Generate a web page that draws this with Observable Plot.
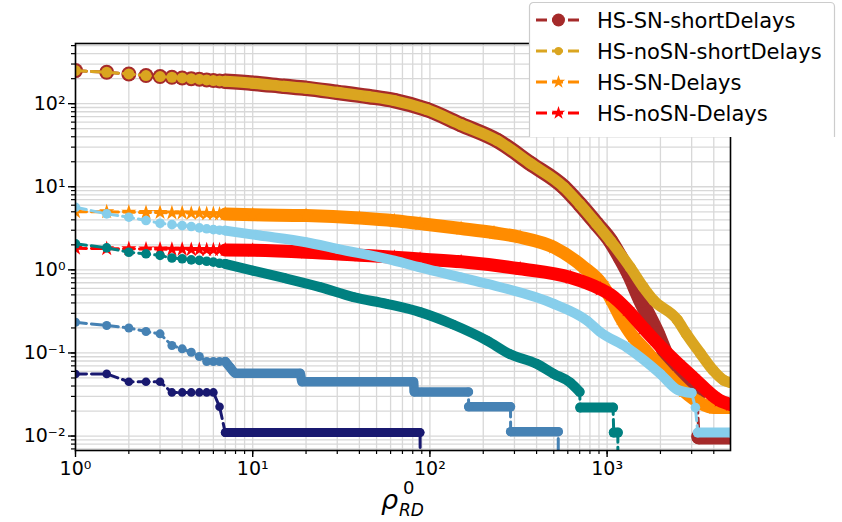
<!DOCTYPE html>
<html><head><meta charset="utf-8">
<script src="https://cdn.jsdelivr.net/npm/d3@7"></script>
<script src="https://cdn.jsdelivr.net/npm/@observablehq/plot@0.6"></script>
<style>
html,body{margin:0;padding:0;background:#fff;}
#wrap{position:relative;width:842px;height:522px;overflow:hidden;font-family:"DejaVu Sans",sans-serif;}
#wrap svg{display:block;}
</style></head><body><div id="wrap"></div>
<script>
// ---------- data ----------
const seriesNames = ["HS-SN-shortDelays", "HS-noSN-shortDelays", "HS-SN-Delays", "HS-noSN-Delays",
                     "series 5", "series 6", "series 7", "series 8"];
const xMajorTicks = [1, 10, 100, 1000];
const yMajorTicks = [0.01, 0.1, 1, 10, 100];

const xBrown = [1,1.5,2,2.5,3,3.5,4,4.5,5,5.5,6,6.5,7,10,15,20,30,45,63,96,150,240,370,570,700,870,1050,1190,1330,1550,1920,2180,2600,3220,3300,4970];
const yBrown = [250,239,228,218,212,208,204,200,197,193,190,188,186,176,162,153,137,122,109,85,56,36,19,9.9,6.2,3.6,2.2,1.4,0.9,0.43,0.17,0.089,0.051,0.029,0.0098,0.0098];

const xGold = [1,1.5,2,2.5,3,3.5,4,4.5,5,5.5,6,6.5,7,10,15,20,30,45,63,96,150,240,370,570,700,870,1050,1350,1600,1830,2490,2800,3370,3960,4550,4970];
const yGold = [250,239,228,218,212,208,204,200,197,193,190,188,186,176,162,153,137,122,109,85,56,36,19,9.9,6.2,3.6,2.2,1.07,0.62,0.43,0.25,0.17,0.098,0.062,0.047,0.044];

const xOrange = [1,1.5,2,2.5,3,3.5,4,4.5,5,5.5,6,6.5,7,10,20,40,63,88,150,230,323,500,740,930,1050,1200,1390,1600,2170,2700,3350,4000,4970];
const yOrange = [5.0,5.0,4.95,4.9,4.9,4.85,4.85,4.8,4.8,4.75,4.75,4.7,4.7,4.6,4.5,4.2,3.9,3.6,3.15,2.8,2.47,1.87,1.07,0.68,0.45,0.26,0.16,0.115,0.056,0.035,0.025,0.022,0.022];

const xRed = [1,1.5,2,2.5,3,3.5,4,4.5,5,5.5,6,6.5,7,10,20,40,63,88,150,323,620,915,1050,1300,1600,2000,2500,3050,4300,4970];
const yRed = [1.82,1.8,1.8,1.78,1.78,1.77,1.77,1.76,1.76,1.75,1.75,1.74,1.74,1.72,1.63,1.5,1.42,1.35,1.25,1.03,0.81,0.59,0.5,0.33,0.2,0.12,0.075,0.051,0.027,0.024];

const xSky = [1,1.5,2,2.5,3,3.5,4,4.5,5,5.5,6,6.5,7,11,20,30,63,88,150,210,500,770,915,1290,2000,2500,3000,3150,3250,4970];
const ySky = [5.66,4.72,4.3,3.92,3.64,3.5,3.41,3.32,3.2,3.12,3.05,3.0,2.97,2.59,2.15,1.79,1.29,1.07,0.81,0.68,0.39,0.245,0.178,0.117,0.056,0.036,0.033,0.022,0.011,0.011];

const xTeal = [1,1.5,2,2.5,3,3.5,4,4.5,5,5.5,6,6.5,7,10,15,24,37,57,88,135,210,280,400,500,620,700,705,1080,1090,1150,1150.5];
const yTeal = [2.06,1.84,1.63,1.56,1.49,1.39,1.36,1.32,1.3,1.27,1.24,1.2,1.18,0.98,0.8,0.62,0.47,0.39,0.31,0.22,0.141,0.098,0.074,0.056,0.044,0.034,0.022,0.022,0.011,0.011,0];

const xSteel = [1,1.5,2,2.5,3,3.5,4,4.5,5,5.5,6,6.5,7,7.5,8,18.5,19,81,81.5,165,165.5,285,285.5,530,530.5];
const ySteel = [0.234,0.214,0.2,0.181,0.17,0.123,0.112,0.102,0.0906,0.079,0.079,0.079,0.079,0.066,0.057,0.057,0.045,0.045,0.034,0.034,0.0225,0.0225,0.0113,0.0113,0];

const xNavy = [1,1.5,2,2.5,3,3.5,4,4.5,5,5.5,6,6.5,7,88,88.5];
const yNavy = [0.0558,0.056,0.045,0.045,0.045,0.0335,0.0335,0.0335,0.0335,0.0335,0.0335,0.0225,0.011,0.011,0];

// ---------- styles ----------
const seriesStyles = [
  {color:"#a52a2a", symbol:"circle", r:7.5, band:15.5},
  {color:"#daa520", symbol:"circle", r:5.5, band:11},
  {color:"#ff8c00", symbol:"star",   r:4.8, band:13},
  {color:"#ff0000", symbol:"star",   r:4.8, band:13},
  {color:"#87ceeb", symbol:"circle", r:4.8, band:10},
  {color:"#008080", symbol:"circle", r:4.8, band:10},
  {color:"#4682b4", symbol:"circle", r:4.5, band:9.5},
  {color:"#191970", symbol:"circle", r:4.3, band:9}
];
const seriesX = [xBrown, xGold, xOrange, xRed, xSky, xTeal, xSteel, xNavy];
const seriesY = [yBrown, yGold, yOrange, yRed, ySky, yTeal, ySteel, yNavy];

const W = 842, H = 522;
const mL = 75, mR = 112, mT = 43, mB = 72;
const xDomain = [1, 4970], yDomain = [0.0067, 530];
const yFloor = yDomain[0] / 10;           // zero values are clipped below the axis (like matplotlib)
const pxPerDecadeY = (H - mT - mB) / Math.log10(yDomain[1] / yDomain[0]);

const SUP = {"-":"\u207B","0":"\u2070","1":"\u00B9","2":"\u00B2","3":"\u00B3","4":"\u2074","5":"\u2075","6":"\u2076","7":"\u2077","8":"\u2078","9":"\u2079"};
const fmt = d => "10" + String(Math.round(Math.log10(d))).split("").map(c => SUP[c]).join("");

const xMinor = d3.scaleLog().domain(xDomain).ticks(60);
const yMinor = d3.scaleLog().domain(yDomain).ticks(60);

const marks = [
  Plot.gridX(xMinor, {stroke:"#d8d8d8", strokeOpacity:1, strokeWidth:1.3}),
  Plot.gridY(yMinor, {stroke:"#d8d8d8", strokeOpacity:1, strokeWidth:1.3})
];

seriesX.forEach((xs, si) => {
  const st = seriesStyles[si];
  const pts = xs.map((x, i) => ({x, y: seriesY[si][i] > 0 ? seriesY[si][i] : yFloor, zero: !(seriesY[si][i] > 0)}));
  // dense-marker band runs: where consecutive markers overlap, excluding big vertical drops
  const band = [];
  let run = -1, open = false;
  for (let i = 0; i < pts.length - 1; i++) {
    const p = pts[i], q = pts[i+1];
    const dropPx = Math.abs(Math.log10(q.y / p.y)) * pxPerDecadeY;
    const vertical = q.x / p.x < 1.1 && dropPx > st.band * 1.2;
    const ok = p.x >= 7 && !p.zero && !q.zero && !vertical;
    if (ok) {
      if (!open) { run++; band.push({...p, run}); open = true; }
      band.push({...q, run});
    } else open = false;
  }
  marks.push(
    Plot.line(pts, {x:"x", y:"y", stroke:st.color, strokeWidth:3, strokeDasharray:"11,5", clip:true}),
    Plot.line(band, {x:"x", y:"y", z:"run", curve:"monotone-x", stroke:st.color, strokeWidth:st.band, strokeLinecap:"round", strokeLinejoin:"round", clip:true}),
    Plot.dot(pts.filter(p => !p.zero), {x:"x", y:"y", r:st.r, symbol:st.symbol, fill:st.color, stroke:"none", clip:true})
  );
});

marks.push(
  Plot.axisX(xMinor, {tickSize:4, tickFormat:() => "", strokeWidth:1.2, label:null}),
  Plot.axisY(yMinor, {tickSize:4, tickFormat:() => "", strokeWidth:1.2, label:null}),
  Plot.axisX(xMajorTicks, {tickSize:7, tickPadding:4, tickFormat:fmt, fontSize:19, strokeWidth:1.4, label:null}),
  Plot.axisY(yMajorTicks, {tickSize:7, tickPadding:3, tickFormat:fmt, fontSize:19, strokeWidth:1.4, label:null}),
  Plot.frame({stroke:"black", strokeWidth:1.6})
);

const chart = Plot.plot({
  width: W, height: H,
  marginLeft: mL, marginRight: mR, marginTop: mT, marginBottom: mB,
  x: {type:"log", domain:xDomain, label:null},
  y: {type:"log", domain:yDomain, label:null},
  style: {fontFamily:"DejaVu Sans", fontSize:"19px", background:"white", color:"black"},
  marks
});
const wrap = document.getElementById("wrap");
wrap.appendChild(chart);

// ---------- x-axis label  rho^0_RD ----------
const lab = d3.create("svg").attr("width", W).attr("height", H)
  .style("position","absolute").style("left","0px").style("top","0px").style("pointer-events","none");
const g = lab.append("g").attr("font-family","DejaVu Sans").attr("fill","black");
g.append("text").attr("x",381).attr("y",509).attr("font-size",27).attr("font-style","italic").text("\u03C1");
g.append("text").attr("x",403).attr("y",494).attr("font-size",18).text("0");
g.append("text").attr("x",399).attr("y",516).attr("font-size",17).attr("font-style","italic").text("RD");
wrap.appendChild(lab.node());

// ---------- legend (top-right, clipped at its bottom like the reference) ----------
const leg = d3.create("svg").attr("width", 310).attr("height", 137)
  .style("position","absolute").style("left","528px").style("top","0px");
leg.append("rect").attr("x",1.5).attr("y",2.5).attr("width",305).attr("height",200).attr("rx",4)
  .attr("fill","white").attr("stroke","#cccccc").attr("stroke-width",1.2);
for (let i = 0; i < 4; i++) {
  const st = seriesStyles[i];
  const cy = 20 + 31 * i;
  leg.append("line").attr("x1",8).attr("x2",53).attr("y1",cy).attr("y2",cy)
    .attr("stroke",st.color).attr("stroke-width",3).attr("stroke-dasharray","11,5");
  const sym = st.symbol === "star" ? d3.symbolStar : d3.symbolCircle;
  const rr = st.symbol === "star" ? 4.2 : Math.min(st.r, 6.5) * (i === 1 ? 0.75 : 1);
  leg.append("path").attr("transform",`translate(30.5,${cy})`)
    .attr("d", d3.symbol(sym, Math.PI * rr * rr)()).attr("fill", st.color);
  leg.append("text").attr("x",69).attr("y",cy+7.5).attr("font-family","DejaVu Sans").attr("font-size",21)
    .attr("fill","black").text(seriesNames[i]);
}
wrap.appendChild(leg.node());
</script></body></html>
